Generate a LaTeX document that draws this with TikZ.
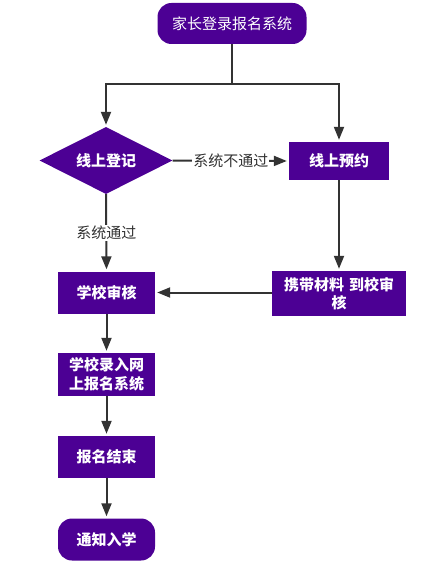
\documentclass[tikz,border=0pt]{standalone}
\usepackage{fontspec}
\setmainfont{Noto Sans CJK SC}
\usetikzlibrary{shapes.geometric,arrows.meta}
\definecolor{boxpurple}{RGB}{76,0,148}
\definecolor{linegray}{RGB}{51,51,51}
\tikzset{
  every node/.style={font=\fontsize{15}{18.5}\selectfont},
  procbox/.style={draw=none,fill=boxpurple,text=white,font=\fontsize{15}{18.5}\selectfont\bfseries,
    minimum width=97pt,minimum height=42pt,inner sep=2pt,align=center},
  termbox/.style={procbox,rounded corners=14pt},
  decbox/.style={diamond,fill=boxpurple,text=white,font=\fontsize{15}{18.5}\selectfont\bfseries,
    aspect=2,minimum width=133pt,minimum height=67pt,inner sep=0pt},
  flow/.style={draw=linegray,line width=2pt,shorten >=2pt,-{Triangle[length=13pt,width=10pt]}},
  flowlabel/.style={fill=white,text=linegray,inner sep=1pt}
}
\begin{document}
\begin{tikzpicture}[x=1pt,y=-1pt]
  \useasboundingbox (0,0) rectangle (433,564);
  % nodes
  \node[termbox,minimum width=149pt,minimum height=41pt,font=\fontsize{15}{18.5}\selectfont] (start) at (232,23.5) {家长登录报名系统};
  \node[decbox] (online) at (106,160.5) {线上登记};
  \node[procbox,minimum width=100pt,minimum height=38pt] (reserve) at (339,161) {线上预约};
  \node[procbox] (check) at (106.5,292.5) {学校审核};
  \node[procbox,minimum width=134pt,minimum height=45pt,text width=130pt] (bring) at (339,293.5) {携带材料 到校审\\核};
  \node[procbox,minimum height=43pt] (enter) at (106.5,374.5) {学校录入网\\上报名系统};
  \node[procbox] (finish) at (106.5,457) {报名结束};
  \node[termbox] (notify) at (106.5,539.5) {通知入学};
  \coordinate (fork) at (232,84);
  % connectors
  \draw[draw=linegray,line width=2pt] (start) -- (fork);
  \draw[flow] (fork) -| (online.north);
  \draw[flow] (fork) -| (reserve.north);
  \draw[flow] (online.east) -- node[flowlabel] {系统不通过} (reserve.west);
  \draw[flow] (online.south) -- node[flowlabel] {系统通过} (check.north);
  \draw[flow] (reserve) -- (bring);
  \draw[flow] (bring.west |- check.east) -- (check.east);
  \draw[flow] (check) -- (enter);
  \draw[flow] (enter) -- (finish);
  \draw[flow] (finish) -- (notify);
\end{tikzpicture}
\end{document}
